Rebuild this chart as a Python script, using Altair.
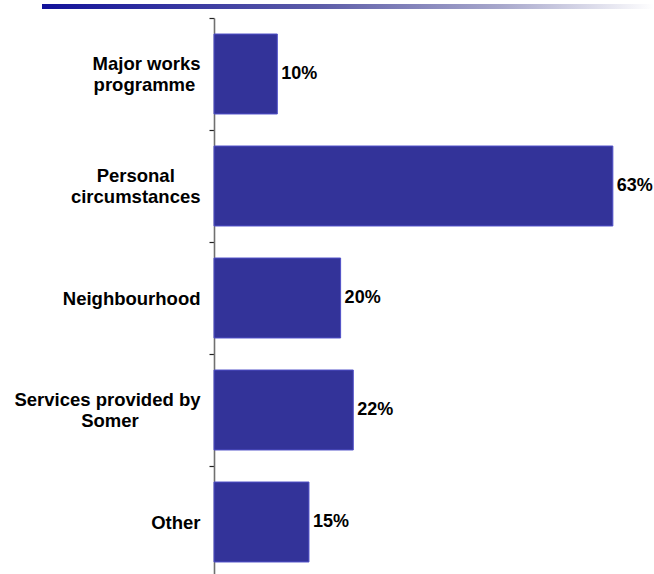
import altair as alt
import pandas as pd

# Reasons given (multi-line labels) and share of respondents
reasons = [
    ["Major works", "programme"],
    ["Personal", "circumstances"],
    ["Neighbourhood"],
    ["Services provided by", "Somer"],
    ["Other"],
]
shares = [10, 63, 20, 22, 15]

FONT = "Liberation Sans"
FS = 18.5
VAL_FS = 18
LINE_H = 21.5

# Arial/Liberation Sans Bold advance widths (em units) for centring wrapped lines
_W = {
    " ": .278, "M": .833, "P": .667, "N": .722, "S": .667, "O": .778,
    "a": .556, "b": .611, "c": .556, "d": .611, "e": .556, "g": .611,
    "h": .611, "i": .278, "j": .278, "k": .556, "l": .278, "m": .889,
    "n": .611, "o": .611, "p": .611, "r": .389, "s": .556, "t": .333,
    "u": .611, "v": .556, "w": .778, "y": .556,
}
NBSP = "\u00a0"
JOIN = "\u2060"  # keeps trailing padding from being trimmed
SPACER = NBSP + JOIN  # an invisible but non-empty line


def text_w(s):
    return sum(_W.get(ch, .556) for ch in s)


def centred(lines):
    # right-aligned axis labels: pad short lines with trailing no-break
    # spaces so each line sits centred under the longest one
    longest = max(text_w(l) for l in lines)
    out = []
    for l in lines:
        n = round((longest - text_w(l)) / 2 / _W[" "])
        out.append(l + (NBSP * n + JOIN if n else ""))
    return "\n".join(out)


labels = [centred(r) for r in reasons]
df = pd.DataFrame({"reason": labels, "share": shares})
df["txt"] = df["share"].astype(str) + "%"

# Labels are laid out on a half-line grid: two-line labels get a spacer line
# between them, one-line labels a spacer line before them, and the whole
# label is lifted half a line, so every block is centred on its bar.
label_expr = (
    f"indexof(datum.label, '\\n') >= 0"
    f" ? [split(datum.label, '\\n')[0], '{SPACER}', split(datum.label, '\\n')[1]]"
    f" : ['{SPACER}', datum.label]"
)

y_enc = alt.Y(
    "reason:N",
    sort=labels,
    title=None,
    scale=alt.Scale(paddingInner=0, paddingOuter=0),
    axis=alt.Axis(
        labelExpr=label_expr,
        labelFont=FONT,
        labelFontSize=FS,
        labelFontWeight="bold",
        labelColor="#000000",
        labelLineHeight=LINE_H / 2,
        labelOffset=-LINE_H / 2,
        labelPadding=9,
        labelOverlap=False,
        labelLimit=400,
        tickBand="extent",
        tickSize=5,
        tickColor="#222222",
        tickWidth=1.2,
        domainColor="#707070",
        domainWidth=1.6,
    ),
)
x_enc = alt.X("share:Q", axis=None, scale=alt.Scale(domain=[0, 69.5]))

bars = alt.Chart(df).mark_bar(
    color="#333399", stroke="#5050c8", strokeWidth=1,
    height=alt.RelativeBandSize(0.714),
).encode(x=x_enc, y=y_enc)

values = alt.Chart(df).mark_text(
    align="left", baseline="middle", dx=4, font=FONT, fontSize=VAL_FS,
    fontWeight="bold", color="#000000"
).encode(x=x_enc, y=alt.Y("reason:N", sort=labels), text="txt:N")

# fading header rule across the top of the slide
header = alt.Chart(alt.Data(values=[{}])).mark_rect(
    color=alt.Gradient(
        gradient="linear", x1=0, x2=1, y1=0, y2=0,
        stops=[
            alt.GradientStop(offset=0, color="#12129a"),
            alt.GradientStop(offset=0.45, color="#5c5ca8"),
            alt.GradientStop(offset=0.75, color="#a8a8cc"),
            alt.GradientStop(offset=1, color="#ffffff"),
        ],
    )
).encode(
    x=alt.value(-172), x2=alt.value(440),
    y=alt.value(-14), y2=alt.value(-9),
)

chart = alt.layer(header, bars, values).properties(
    width=440,
    height=560,
    autosize=alt.AutoSizeParams(type="none"),
    padding={"left": 214, "top": 18, "right": 0, "bottom": 0},
    background="#ffffff",
).configure_view(stroke=None)

chart.save("out.html", embed_options={"renderer": "svg", "actions": False})
